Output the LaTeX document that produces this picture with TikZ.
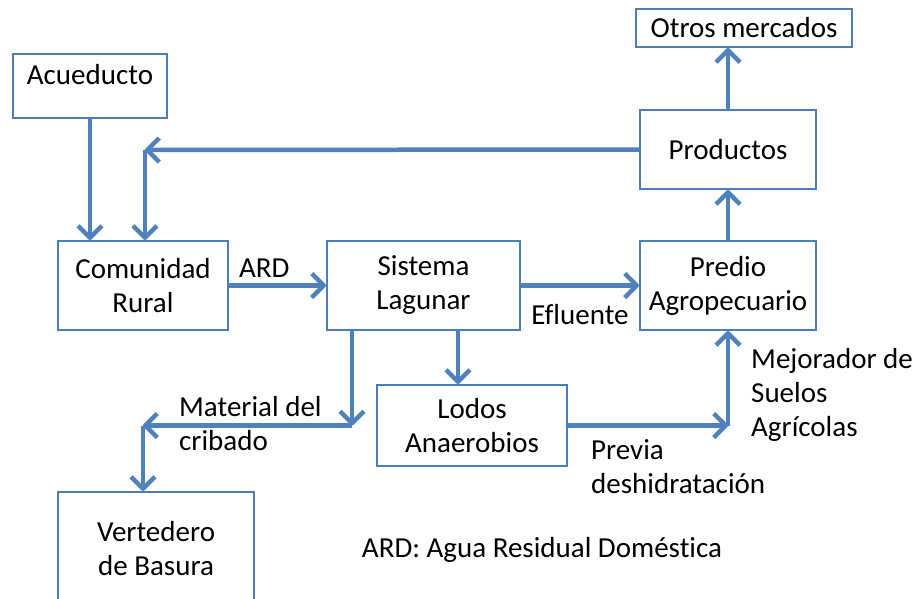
\documentclass[tikz,border=0pt]{standalone}
\usepackage{fontspec}
\setmainfont{Carlito}[Ligatures=NoCommon]
\usepackage{tikz}
\usetikzlibrary{arrows.meta, positioning, calc}
\definecolor{boxblue}{HTML}{4A7EBB}
\definecolor{flowblue}{HTML}{4F81BD}

\begin{document}
\begin{tikzpicture}[x=1pt, y=-1pt,
    font=\fontsize{29}{34}\selectfont,
    box/.style={draw=boxblue, line width=2pt, fill=white, align=center, inner sep=0pt},
    flow/.style={draw=flowblue, line width=4.5pt, line join=round,
                 -{Straight Barb[length=12pt, width=24pt, line join=round]}},
    lbl/.style={align=left, inner sep=0pt}]
\clip (0,0) rectangle (921,598);

% cajas
\node[box, minimum width=154, minimum height=64,
      label={[anchor=north, inner sep=0pt, yshift=-11]north:Acueducto}] (acu) at (90,86) {};
\node[box, minimum width=170, minimum height=89] (com) at (143,285.5) {Comunidad\\Rural};
\node[box, minimum width=193, minimum height=89] (sis) at (423.5,285.5) {Sistema\\Lagunar};
\node[box, minimum width=176, minimum height=89] (pre) at (728,285.5) {Predio\\Agropecuario};
\node[box, minimum width=176, minimum height=79] (pro) at (728,149.5) {Productos};
\node[box, minimum width=216, minimum height=38] (otr) at (744,28) {Otros mercados};
\node[box, minimum width=190, minimum height=81] (lod) at (472,425.5) {Lodos\\Anaerobios};
\node[box, minimum width=196, minimum height=114] (ver) at (156,549) {Vertedero\\de Basura};

% puntos de quiebre
\coordinate (rtn) at (145,150);
\coordinate (cri) at (352,425.5);
\coordinate (bas) at (143,425.5);
\coordinate (mej) at (728,425.5);

% flujos
\draw[flow] (acu.south) -- (acu.south |- com.north);
\draw[flow] (pro.west) -- (rtn);
\draw[flow] (rtn) -- (rtn |- com.north);
\draw[flow] (com.east) -- (sis.west);
\draw[flow] (sis.east) -- (pre.west);
\draw[flow] ([xshift=34.5]sis.south) -- ([xshift=34.5]sis.south |- lod.north);
\draw[flow] (sis.south -| cri) -- (cri);
\draw[flow] (cri) -- (bas);
\draw[flow] (bas) -- (bas |- ver.north);
\draw[flow] (lod.east) -- (mej);
\draw[flow] (mej) -- (pre.south);
\draw[flow] (pre.north) -- (pro.south);
\draw[flow] (pro.north) -- (pro.north |- otr.south);

% etiquetas
\node[lbl, anchor=west] (ard) at (239,268) {ARD};
\node[lbl] (efl) at (580,315) {Efluente};
\node[lbl, anchor=west] (mat) at (179,424) {Material del\\cribado};
\node[lbl, anchor=west] (prv) at (591,467) {Previa\\deshidratación};
\node[lbl, anchor=west] (sue) at (751,395) {Mejorador de\\Suelos\\Agrícolas};
\node[lbl] (ley) at (542,550) {ARD: Agua Residual Doméstica};
\end{tikzpicture}
\end{document}
